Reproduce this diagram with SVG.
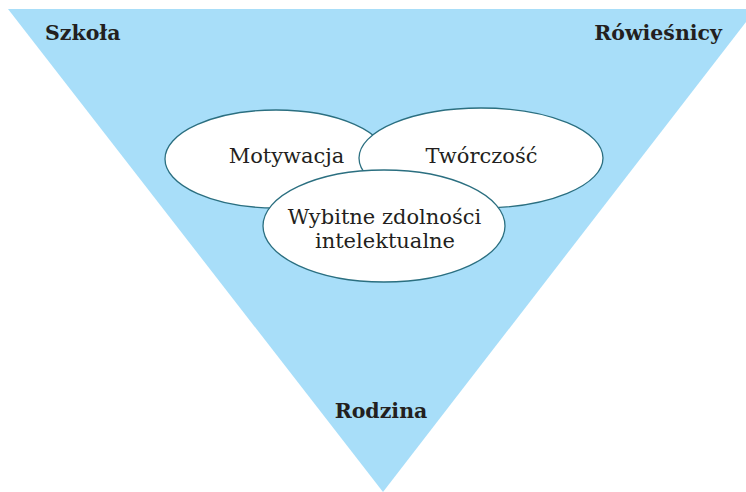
<svg xmlns="http://www.w3.org/2000/svg" width="746" height="492" viewBox="0 0 746 492">
<style>
.bg{fill:#a8def9}
.ell{fill:#ffffff;stroke:#2b6f80;stroke-width:1.3}
.lbl{font-family:"DejaVu Serif","Liberation Serif",serif;font-weight:bold;font-size:20.5px;fill:#231f20}
.txt{font-family:"DejaVu Serif","Liberation Serif",serif;font-size:21px;fill:#231f20;text-anchor:middle}
</style>
<rect width="746" height="492" fill="#ffffff"/>
<polygon class="bg" points="8,9 756,9 383,492"/>
<text class="lbl" x="45" y="40">Szkoła</text>
<text class="lbl" x="722" y="40" text-anchor="end">Rówieśnicy</text>
<text class="lbl" x="381" y="418" text-anchor="middle">Rodzina</text>
<g id="motywacja">
<ellipse class="ell" cx="276" cy="159" rx="111" ry="49"/>
<text class="txt" x="286.5" y="163">Motywacja</text>
</g>
<g id="tworczosc">
<ellipse class="ell" cx="481" cy="158" rx="122" ry="50"/>
<text class="txt" x="481.5" y="163">Twórczość</text>
</g>
<g id="wybitne">
<ellipse class="ell" cx="384" cy="226" rx="121" ry="56"/>
<text class="txt" x="384.5" y="224">Wybitne zdolności</text>
<text class="txt" x="385" y="248">intelektualne</text>
</g>
<g id="connectors"/>
</svg>
